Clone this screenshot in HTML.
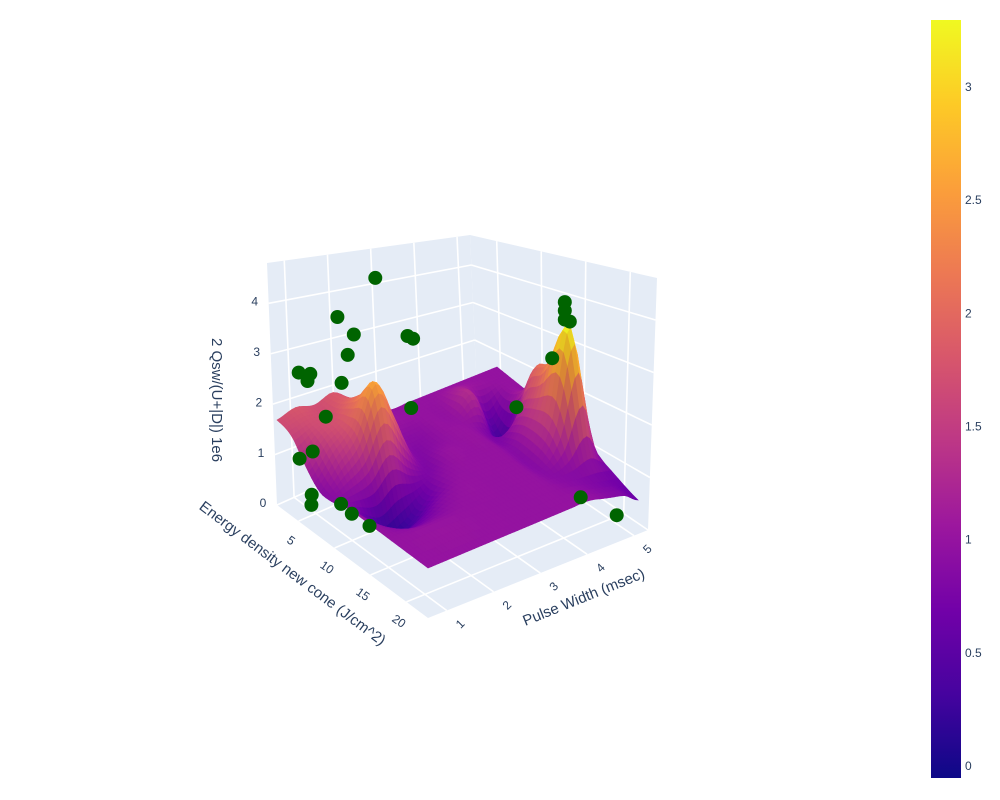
<!DOCTYPE html>
<html><head><meta charset="utf-8">
<style>
html,body{margin:0;padding:0;background:#fff;}
svg{display:block;font-family:"Liberation Sans",Arial,sans-serif;}
text{fill:#2a3f5f;font-size:12px;}
</style></head>
<body>
<svg id="chart" width="1000" height="800" viewBox="0 0 1000 800">
<defs>
<linearGradient id="plasma" x1="0" y1="1" x2="0" y2="0">
<stop offset="0" stop-color="#0d0887"/><stop offset="0.111" stop-color="#46039f"/><stop offset="0.222" stop-color="#7201a8"/><stop offset="0.333" stop-color="#9c179e"/><stop offset="0.444" stop-color="#bd3786"/><stop offset="0.556" stop-color="#d8576b"/><stop offset="0.667" stop-color="#ed7953"/><stop offset="0.778" stop-color="#fb9f3a"/><stop offset="0.889" stop-color="#fdca26"/><stop offset="1" stop-color="#f0f921"/>
</linearGradient>
</defs>
<g id="walls"></g>
<g id="gridg"></g>
<g id="surf"></g>
<g id="pts"></g>
<g id="labels"></g>
<rect x="931" y="20" width="30" height="758" fill="url(#plasma)"/>
<g id="cbticks"></g>
</svg>
<script>
// ---- data ----
const pulseGrid = [0.6,1.0,1.4,1.8,2.2,2.6,3.0,3.4,3.8,4.2,4.6,5.0,5.3];
const energyGrid = [2,4,6,8,10,12,15,18,23];
const zRow0 = [1.7,1.8,1.7,1.8,1.5,1.2,1.0,1.0,1.0,1.0,1.0,1.0,1.0];
const zRow1 = [1.6,1.7,1.7,1.9,1.6,1.1,1.0,1.0,1.0,1.2,1.0,1.0,1.0];
const zRow2 = [1.2,1.6,1.8,2.2,1.7,1.0,0.9,1.0,1.0,1.3,0.5,1.0,1.0];
const zRow3 = [0.9,1.3,1.7,2.6,1.8,0.9,0.9,1.0,1.0,0.8,0.3,1.3,1.0];
const zRow4 = [0.9,0.9,1.0,1.4,1.0,0.8,1.0,1.0,1.0,0.8,1.2,2.0,1.1];
const zRow5 = [1.0,0.6,0.2,0.3,0.6,0.9,1.0,1.0,1.0,0.9,1.5,2.3,1.1];
const zRow6 = [1.0,0.8,0.6,0.7,0.9,1.0,1.0,1.0,1.0,0.9,1.6,3.3,1.0];
const zRow7 = [1.0,1.0,1.0,1.0,1.0,1.0,1.0,1.0,1.0,0.9,0.9,1.0,0.8];
const zRow8 = [1.0,1.0,1.0,1.0,1.0,1.0,1.0,1.0,1.0,1.0,0.9,0.8,0.6];
const zGrid = [zRow0,zRow1,zRow2,zRow3,zRow4,zRow5,zRow6,zRow7,zRow8];
const ptPulse  = [2.55,1.74,2.09,1.96,3.24,3.36,0.91,1.16,1.10,1.83,1.49,3.32,0.93,1.21,1.19,0.69,1.33,1.40,1.46,5.11,5.24,5.24,5.24,5.35,5.12,4.97,5.14];
const ptEnergy = [3,3,3,3,3,3,3,3,3,3,3,3,3,3,3,6.2,6.2,7.25,9.35,6.2,12.5,12.5,12.5,12.5,11.45,16.7,20.9];
const ptZ      = [3.92,3.44,2.96,2.6,2.5,2.4,2.64,2.52,2.4,2.09,1.54,1.03,0.91,0.95,0.09,0.42,0.2,0.09,0.05,0.72,3.45,3.28,3.1,3.02,2.26,0.1,0.13];
const zTicks = [0,1,2,3,4];
const energyTicks = [5,10,15,20];
const pulseTicks = [1,2,3,4,5];
const cbTicks = [0,0.5,1,1.5,2,2.5,3];

// ---- projection ----
const P0=0.6,P1=5.3,E0=2,E1=23,ZMAX=4.8,CMIN=-0.05,CMAX=3.3;
const Lc=[277,505],Bc=[478,415],Rc=[648,530],Fc=[428,618];
const Lt=[267,263],Bt=[470,235],Rt=[657,278];
function uOf(p){return (p-P0)/(P1-P0);}
function vOf(e){return (e-E0)/(E1-E0);}
function proj(p,e,z){const u=uOf(p),v=vOf(e);
  return [277+220*u+151*v-10*u*v, 505-88*u+113*v-50*z];}
function lerp(a,b,t){return [a[0]+(b[0]-a[0])*t,a[1]+(b[1]-a[1])*t];}
const NS='http://www.w3.org/2000/svg';
function mk(tag,attrs,parent){const el=document.createElementNS(NS,tag);for(const k in attrs)el.setAttribute(k,attrs[k]);parent.appendChild(el);return el;}
const pts=a=>a.map(q=>q[0].toFixed(1)+','+q[1].toFixed(1)).join(' ');

// walls
const W=document.getElementById('walls');
let w1=mk('polygon',{points:pts([Lt,Bt,Bc,Lc]),fill:'#e5ecf6'},W);


let w2=mk('polygon',{points:pts([Bt,Rt,Rc,Bc]),fill:'#e5ecf6'},W);


let w3=mk('polygon',{points:pts([Lc,Bc,Rc,Fc]),fill:'#e5ecf6'},W);



const G=document.getElementById('gridg');
function line(a,b,name){const l=mk('line',{x1:a[0],y1:a[1],x2:b[0],y2:b[1],stroke:'#fff','stroke-width':1.6},G);
  
  }
zTicks.forEach(z=>{const t=z/ZMAX;
  line(lerp(Lc,Lt,t),lerp(Bc,Bt,t),'gridline-z');
  line(lerp(Bc,Bt,t),lerp(Rc,Rt,t),'gridline-z');});
pulseTicks.forEach(p=>{const u=uOf(p);
  line(lerp(Lc,Bc,u),lerp(Lt,Bt,u),'gridline-pulse');
  line(lerp(Lc,Bc,u),lerp(Fc,Rc,u),'gridline-pulse');});
energyTicks.forEach(e=>{const v=vOf(e);
  line(lerp(Bc,Rc,v),lerp(Bt,Rt,v),'gridline-energy');
  line(lerp(Lc,Fc,v),lerp(Bc,Rc,v),'gridline-energy');});

// colormap
const stops=['#0d0887','#46039f','#7201a8','#9c179e','#bd3786','#d8576b','#ed7953','#fb9f3a','#fdca26','#f0f921'].map(h=>[1,3,5].map(i=>parseInt(h.substr(i,2),16)));
function cmap(z,shade){let t=(z-CMIN)/(CMAX-CMIN);t=Math.max(0,Math.min(1,t))*9;const i=Math.min(8,Math.floor(t)),f=t-i;
  const c=stops[i].map((a,k)=>Math.round(Math.max(0,Math.min(255,(a+(stops[i+1][k]-a)*f)*shade))));return 'rgb('+c.join(',')+')';}

// smooth (Catmull-Rom) sampling of the grid
function cr(p0,p1,p2,p3,t){return 0.5*((2*p1)+(-p0+p2)*t+(2*p0-5*p1+4*p2-p3)*t*t+(-p0+3*p1-3*p2+p3)*t*t*t);}
function zAt(i,j){i=Math.max(0,Math.min(pulseGrid.length-1,i));j=Math.max(0,Math.min(energyGrid.length-1,j));return zGrid[j][i];}
function sampleZ(i,j,fs,fr){const rows=[];for(let dj=-1;dj<=2;dj++){rows.push(cr(zAt(i-1,j+dj),zAt(i,j+dj),zAt(i+1,j+dj),zAt(i+2,j+dj),fs));}
  return Math.max(0,cr(rows[0],rows[1],rows[2],rows[3],fr));}

// surface
const S=document.getElementById('surf');
const SUB=5,quads=[];
for(let j=0;j<energyGrid.length-1;j++)for(let i=0;i<pulseGrid.length-1;i++){
  for(let a=0;a<SUB;a++)for(let b=0;b<SUB;b++){
    const corners=[[a,b],[a+1,b],[a+1,b+1],[a,b+1]].map(([s,r])=>{const fs=s/SUB,fr=r/SUB;
      const p=pulseGrid[i]+(pulseGrid[i+1]-pulseGrid[i])*fs,e=energyGrid[j]+(energyGrid[j+1]-energyGrid[j])*fr;
      const z=sampleZ(i,j,fs,fr);
      return {p,e,z,s:proj(p,e,z)};});
    const zm=corners.reduce((s,c)=>s+c.z,0)/4;
    const dzdu=((corners[1].z+corners[2].z)-(corners[0].z+corners[3].z))/2/(uOf(corners[1].p)-uOf(corners[0].p));
    const dzdv=((corners[2].z+corners[3].z)-(corners[0].z+corners[1].z))/2/(vOf(corners[3].e)-vOf(corners[0].e));
    const shade=Math.max(0.75,Math.min(1.1,1+0.004*dzdv-0.004*dzdu));
    const u=uOf(corners[0].p),v=vOf(corners[0].e);
    quads.push({d:u-v,poly:corners.map(c=>c.s),col:cmap(zm,shade)});
  }}
quads.sort((a,b)=>b.d-a.d);
quads.forEach(q=>{const el=mk('polygon',{points:pts(q.poly),fill:q.col,stroke:q.col,'stroke-width':0.6},S);
  
  });

// scatter
const PT=document.getElementById('pts');
ptPulse.forEach((p,k)=>{const s=proj(p,ptEnergy[k],ptZ[k]);
  const c=mk('circle',{cx:s[0].toFixed(1),cy:s[1].toFixed(1),r:7,fill:'#006400'},PT);
  
  });

// labels
const LB=document.getElementById('labels');
function txt(x,y,str,name,rot,anchor,size){const t=mk('text',{x:x,y:y,'text-anchor':anchor||'middle','dominant-baseline':'middle'},LB);
  if(rot)t.setAttribute('transform','rotate('+rot+' '+x+' '+y+')');
  if(size)t.style.fontSize=size+'px';
  t.textContent=str;
  
  return t;}
zTicks.forEach(z=>{const t=z/ZMAX;const q=lerp(Lc,Lt,t);txt(q[0]-14,q[1]-1,String(z),'z-tick-label');});
energyTicks.forEach(e=>{const q=lerp(Lc,Fc,vOf(e));txt(q[0]-8,q[1]+20,String(e),'energy-tick-label',35);});
pulseTicks.forEach(p=>{const q=lerp(Fc,Rc,uOf(p));txt(q[0]+14,q[1]+14,String(p),'pulse-tick-label',-45);});
txt(216,400,'2 Qsw/(U+|D|) 1e6','z-axis-title',90,'middle',15);
txt(292,574,'Energy density new cone (J/cm^2)','energy-axis-title',37,'middle',15);
txt(584,598,'Pulse Width (msec)','pulse-axis-title',-22,'middle',15);

// colorbar ticks
const CB=document.getElementById('cbticks');
cbTicks.forEach(v=>{const y=778-(v-CMIN)/(CMAX-CMIN)*758;
  const t=mk('text',{x:965,y:y.toFixed(1),'dominant-baseline':'middle'},CB);
  t.textContent=String(v);
  
  });
</script>
</body></html>
